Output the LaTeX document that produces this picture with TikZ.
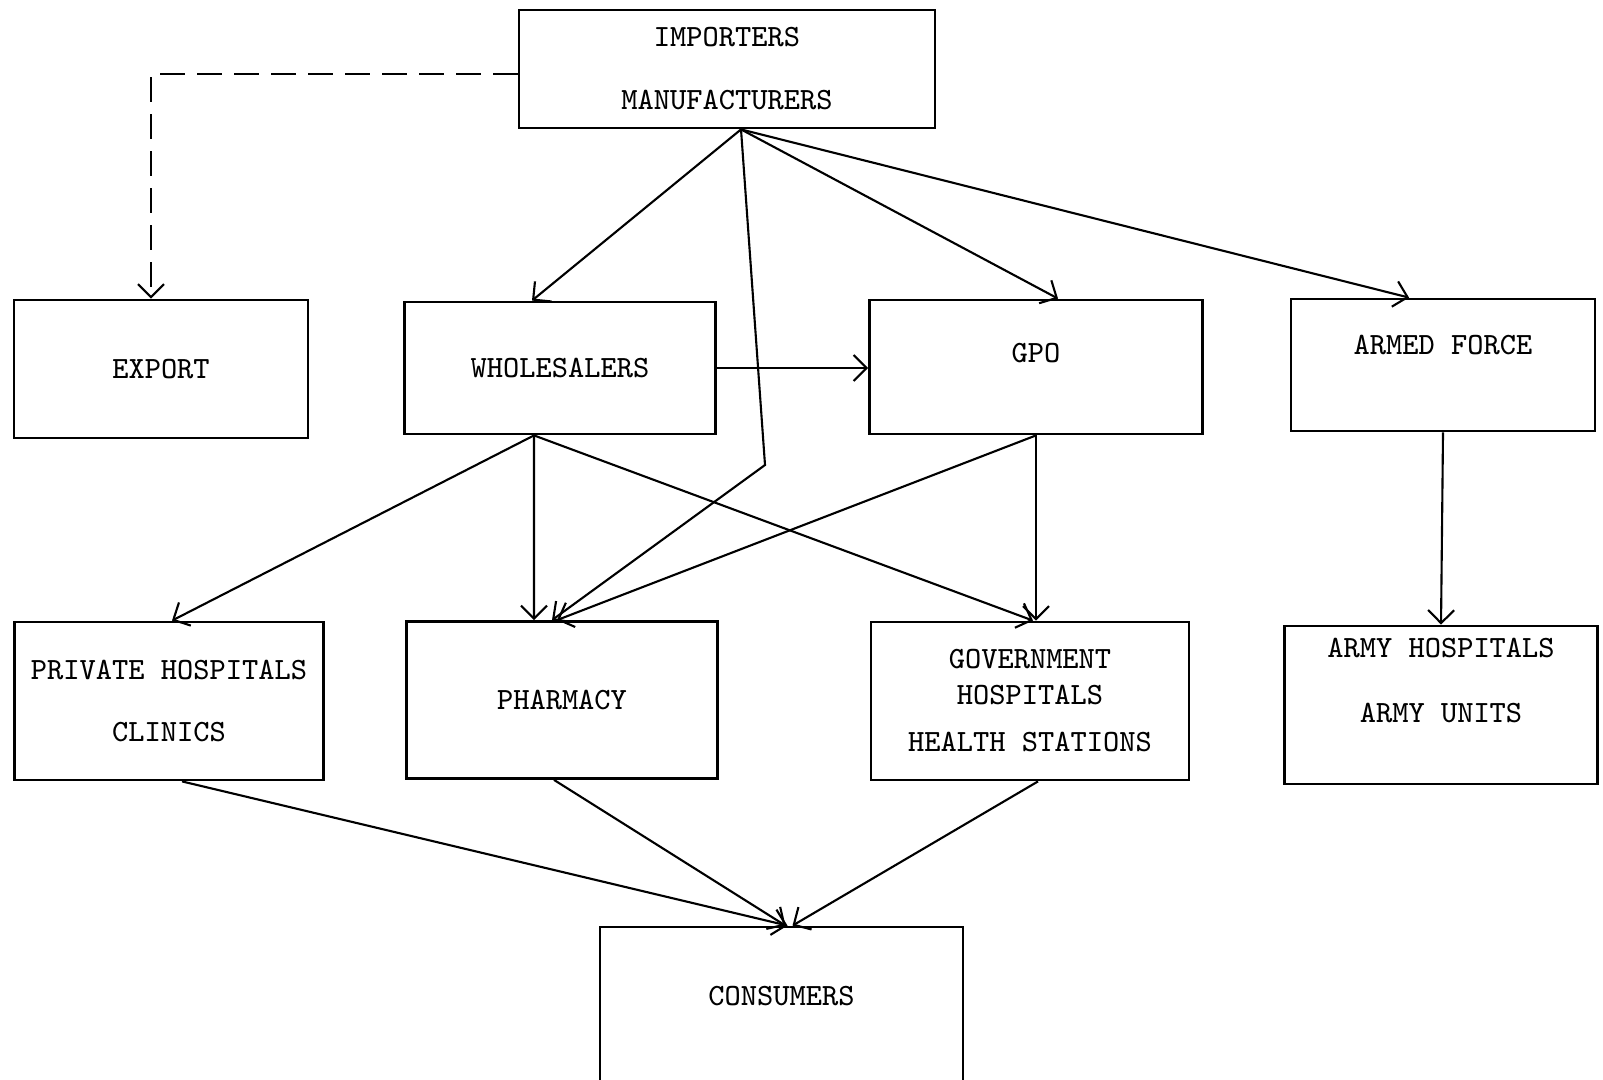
\documentclass[tikz,border=0pt]{standalone}
\usepackage{tikz}
\usetikzlibrary{arrows.meta}
\tikzstyle{block} = [rectangle, draw=black, line width=0.8pt, align=center,
    font=\ttfamily\fontsize{8.8}{10}\selectfont]
\tikzstyle{arrow} = [line width=0.6pt,->,>={Straight Barb[length=1.3mm,width=2.6mm]}]
\begin{document}
\begin{tikzpicture}
  \useasboundingbox (0,0) rectangle (16.03,10.79);
  \clip (0,0) rectangle (16.03,10.79);

  % sources
  \node (top)   [block, minimum width=4.16cm, minimum height=1.18cm] at (7.27,10.10)
        {IMPORTERS\\[7.9pt]MANUFACTURERS};
  % middle row
  \node (export) [block, minimum width=2.94cm, minimum height=1.38cm] at (1.61,7.10)
        {EXPORT};
  \node (whole)  [block, minimum width=3.11cm, minimum height=1.32cm] at (5.60,7.11)
        {WHOLESALERS};
  \node (gpo)    [block, minimum width=3.33cm, minimum height=1.34cm, text depth=0.28cm] at (10.36,7.12)
        {GPO};
  \node (armed)  [block, minimum width=3.04cm, minimum height=1.32cm, text depth=0.40cm] at (14.43,7.14)
        {ARMED FORCE};
  % lower row
  \node (priv)   [block, minimum width=3.09cm, minimum height=1.58cm] at (1.69,3.78)
        {PRIVATE HOSPITALS\\[7.9pt]CLINICS};
  \node (pharm)  [block, minimum width=3.11cm, minimum height=1.57cm] at (5.62,3.79)
        {PHARMACY};
  \node (govt)   [block, minimum width=3.18cm, minimum height=1.58cm] at (10.30,3.78)
        {GOVERNMENT\\HOSPITALS\\[3.6pt]HEALTH STATIONS};
  \node (army)   [block, minimum width=3.13cm, minimum height=1.58cm] at (14.41,3.74)
        {ARMY HOSPITALS\\[8.5pt]ARMY UNITS\\[4.2pt]\mbox{}};
  \node (cons)   [block, minimum width=3.63cm, minimum height=1.66cm, text depth=0.28cm] at (7.815,0.69)
        {CONSUMERS};

  \coordinate (topout) at ([xshift=0.14cm]top.south);
  \coordinate (whout)  at ([xshift=-0.26cm]whole.south);
  \coordinate (kink)   at (7.65,6.14);

  \draw[arrow, dash pattern=on 0.25cm off 0.12cm] ([yshift=-0.05cm]top.west) -| ([xshift=-0.10cm]export.north);
  \draw[arrow] (topout) -- ([xshift=-0.28cm]whole.north);
  \draw[arrow] (topout) -- ([xshift=0.22cm]gpo.north);
  \draw[arrow] (topout) -- ([xshift=-0.34cm]armed.north);
  \draw[arrow] (topout) -- (kink) -- ([xshift=-0.10cm]pharm.north);
  \draw[arrow] (whole.east) -- (whole.east -| gpo.west);

  \foreach \dst/\dx in {priv/0.03, pharm/-0.28, govt/0.03}
    \draw[arrow] (whout) -- ([xshift=\dx cm]\dst.north);

  \draw[arrow] (gpo.south) -- (gpo.south |- govt.north);
  \draw[arrow] (gpo.south) -- ([xshift=-0.05cm]pharm.north);
  \draw[arrow] (armed.south) -- (army.north);

  \foreach \src/\sx/\ex in {priv/0.13/0.06, pharm/-0.08/0.04, govt/0.08/0.11}
    \draw[arrow] ([xshift=\sx cm]\src.south) -- ([xshift=\ex cm]cons.north);

\end{tikzpicture}
\end{document}
